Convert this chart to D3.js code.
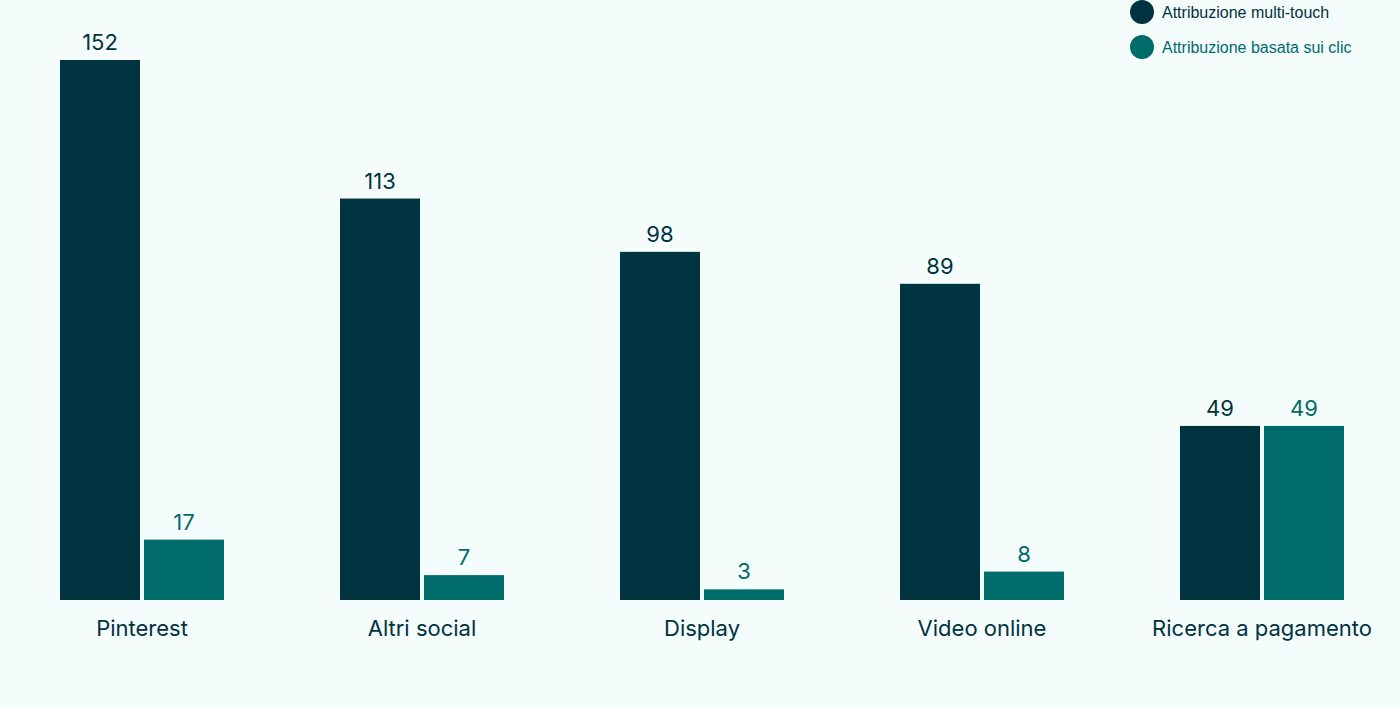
<!DOCTYPE html><html><head><meta charset="utf-8"><script src="https://cdn.jsdelivr.net/npm/d3@7"></script>
<style>body{margin:0;background:#f5fcfc}svg{display:block}</style></head><body><svg width="1400" height="708"></svg>
<script>
const categories=["Pinterest","Altri social","Display","Video online","Ricerca a pagamento"];
const seriesNames=["Attribuzione multi-touch","Attribuzione basata sui clic"];
const multiTouch=[152,113,98,89,49];
const clickBased=[17,7,3,8,49];
const colors=["#003340","#006b6b"];
const svg=d3.select("svg");
svg.append("rect").attr("width",1400).attr("height",708).attr("fill","#f5fcfc");
const x0=d3.scaleBand().domain(categories).range([0,1404]).paddingInner(116/280).paddingOuter(60/280);
const x1=d3.scaleBand().domain([0,1]).range([0,x0.bandwidth()]).paddingInner(4/84).paddingOuter(0);
const y=d3.scaleLinear().domain([0,152]).range([600,60]);
const series=[multiTouch,clickBased];
categories.forEach((c,i)=>{
  const g=svg.append("g").attr("transform",`translate(${x0(c)},0)`);
  series.forEach((s,j)=>{
    g.append("rect").attr("x",x1(j)).attr("y",y(s[i])).attr("width",x1.bandwidth()).attr("height",600-y(s[i])).attr("fill",colors[j]);
    g.append("text").attr("x",x1(j)+x1.bandwidth()/2).attr("y",y(s[i])-10).attr("text-anchor","middle")
      .attr("font-family","Inter, sans-serif").attr("font-size",22).attr("fill",colors[j]).text(s[i]);
  });
});
const xa=svg.append("g").attr("transform","translate(0,600)").call(d3.axisBottom(x0).tickSize(0).tickPadding(20));
xa.select(".domain").remove();
xa.selectAll("text").attr("font-family","Inter, sans-serif").attr("font-size",22).attr("fill","#003340");
seriesNames.forEach((n,j)=>{
  svg.append("circle").attr("cx",1142).attr("cy",12+35*j).attr("r",12).attr("fill",colors[j]);
  svg.append("text").attr("x",1162).attr("y",12+35*j).attr("dy","0.35em").attr("font-family","Liberation Sans, Arial, sans-serif")
    .attr("font-size",16).attr("fill",colors[j]).text(n);
});
</script></body></html>
